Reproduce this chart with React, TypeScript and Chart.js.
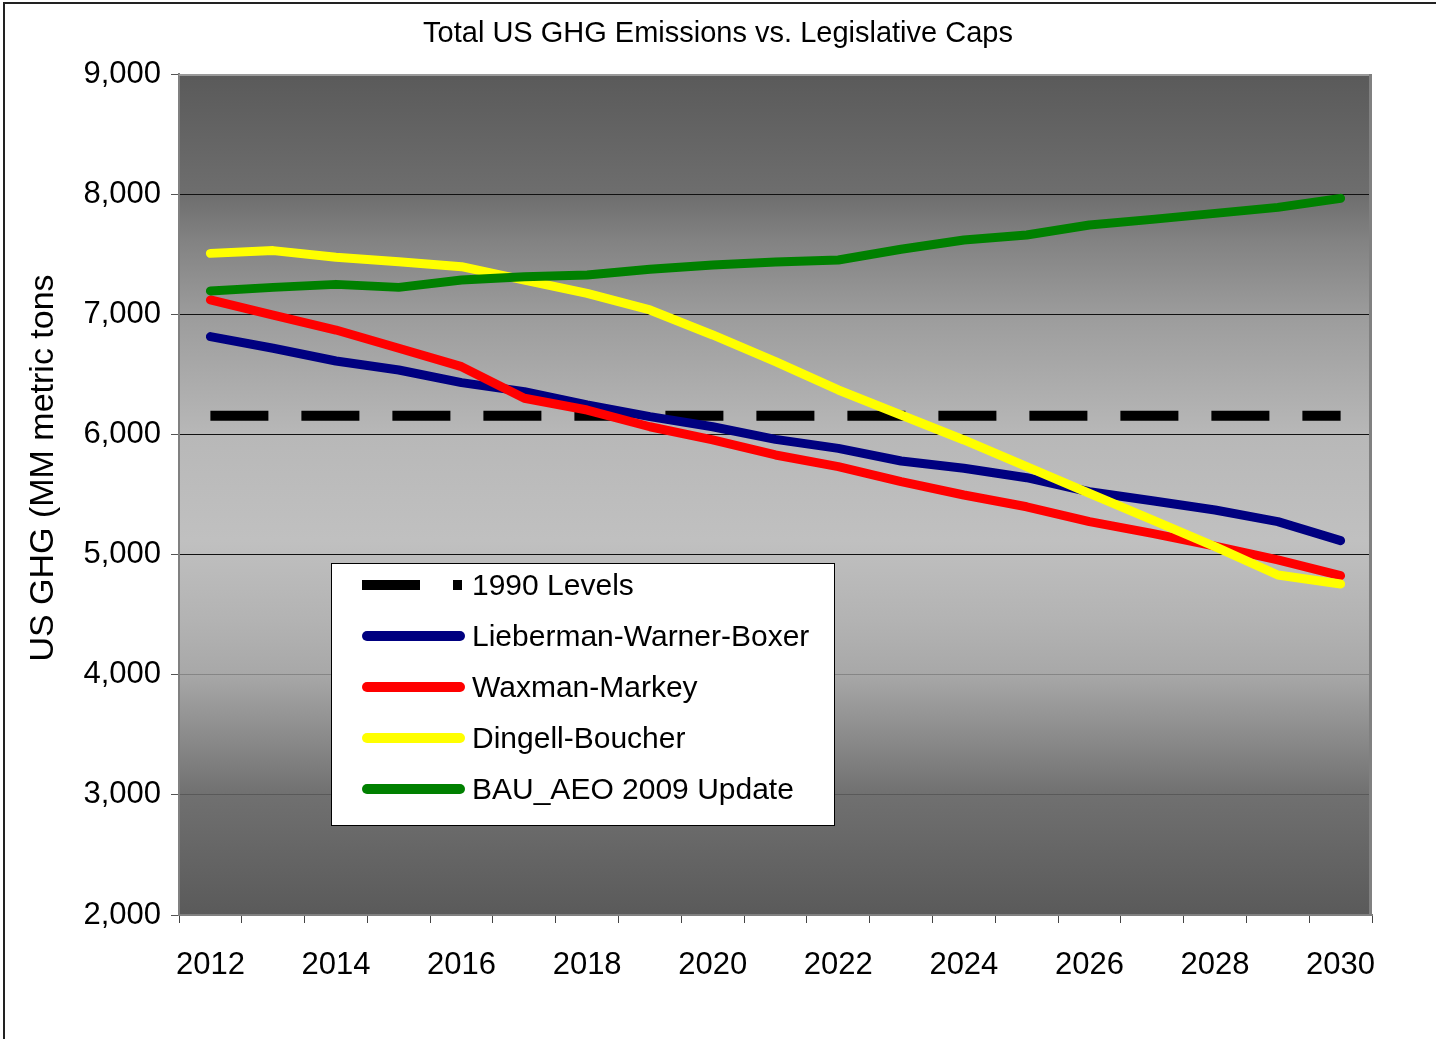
import React, { useEffect, useRef } from "react";
import { Chart, registerables } from "chart.js";

Chart.register(...registerables);

const years = ["2012","2013","2014","2015","2016","2017","2018","2019","2020","2021","2022","2023","2024","2025","2026","2027","2028","2029","2030"];
const levels1990 = [6155,6155,6155,6155,6155,6155,6155,6155,6155,6155,6155,6155,6155,6155,6155,6155,6155,6155,6155];
const liebermanWarnerBoxer = [6814,6717,6611,6536,6431,6356,6245,6148,6064,5959,5884,5779,5718,5640,5523,5448,5371,5274,5116];
const waxmanMarkey = [7119,6994,6869,6717,6564,6301,6203,6064,5954,5829,5732,5607,5496,5398,5274,5176,5071,4955,4824];
const dingellBoucher = [7507,7530,7474,7438,7396,7285,7174,7036,6828,6606,6370,6162,5954,5732,5510,5288,5066,4830,4755];
const bauAeo2009 = [7194,7224,7249,7224,7285,7313,7327,7374,7410,7435,7452,7541,7618,7660,7743,7790,7840,7890,7965];
const seriesNames = ["1990 Levels","Lieberman-Warner-Boxer","Waxman-Markey","Dingell-Boucher","BAU_AEO 2009 Update"];
const yTicks = [2000,3000,4000,5000,6000,7000,8000,9000];

const TITLE = "Total US GHG Emissions vs. Legislative Caps";
const Y_TITLE = "US GHG (MM metric tons";
const FONT = "'Liberation Sans', Arial, sans-serif";

const W = 1436;
const H = 1039;

const plotBackground = {
  id: "plotBackground",
  beforeDraw(chart: any) {
    const { ctx, chartArea } = chart;
    const { left, top, right, bottom } = chartArea;
    const g = ctx.createLinearGradient(0, top, 0, bottom);
    g.addColorStop(0, "#5a5a5a");
    g.addColorStop(0.144, "#6e6e6e");
    g.addColorStop(0.2, "#838383");
    g.addColorStop(0.287, "#9c9c9c");
    g.addColorStop(0.43, "#b8b8b8");
    g.addColorStop(0.554, "#c0c0c0");
    g.addColorStop(0.649, "#b3b3b3");
    g.addColorStop(0.713, "#a8a8a8");
    g.addColorStop(0.857, "#707070");
    g.addColorStop(1, "#5a5a5a");
    ctx.save();
    ctx.fillStyle = g;
    ctx.fillRect(left, top, right - left, bottom - top);
    ctx.restore();
  },
  beforeDatasetsDraw(chart: any) {
    const { ctx, chartArea } = chart;
    const { left, top, right, bottom } = chartArea;
    ctx.save();
    ctx.strokeStyle = "#9a9a9a";
    ctx.lineWidth = 2;
    ctx.beginPath();
    ctx.moveTo(left, top + 1);
    ctx.lineTo(right, top + 1);
    ctx.stroke();
    ctx.strokeStyle = "#808080";
    ctx.lineWidth = 3;
    ctx.beginPath();
    ctx.moveTo(right - 1.5, top);
    ctx.lineTo(right - 1.5, bottom);
    ctx.stroke();
    ctx.restore();
  },
};

const yTitlePlugin = {
  id: "yTitlePlugin",
  afterDraw(chart: any) {
    const { ctx } = chart;
    ctx.save();
    ctx.translate(53, 468);
    ctx.rotate(-Math.PI / 2);
    ctx.font = `34px ${FONT}`;
    ctx.fillStyle = "#000";
    ctx.textAlign = "center";
    ctx.textBaseline = "alphabetic";
    ctx.fillText(Y_TITLE, 0, 0);
    ctx.restore();
  },
};

const boxLegend = {
  id: "boxLegend",
  afterDraw(chart: any) {
    const { ctx } = chart;
    const bx = 331, by = 563, bw = 503, bh = 262;
    ctx.save();
    ctx.fillStyle = "#ffffff";
    ctx.fillRect(bx, by, bw, bh);
    ctx.strokeStyle = "#000";
    ctx.lineWidth = 1;
    ctx.strokeRect(bx + 0.5, by + 0.5, bw, bh);
    chart.data.datasets.forEach((ds: any, i: number) => {
      const cy = by + 22 + i * 51;
      ctx.strokeStyle = ds.borderColor;
      ctx.lineWidth = 10;
      if (ds.borderDash && ds.borderDash.length) {
        ctx.setLineDash([58, 33]);
        ctx.lineCap = "butt";
        ctx.beginPath();
        ctx.moveTo(362, cy);
        ctx.lineTo(462, cy);
        ctx.stroke();
      } else {
        ctx.setLineDash([]);
        ctx.lineCap = "round";
        ctx.beginPath();
        ctx.moveTo(367, cy);
        ctx.lineTo(460, cy);
        ctx.stroke();
      }
      ctx.setLineDash([]);
      ctx.fillStyle = "#000";
      ctx.font = `30px ${FONT}`;
      ctx.textAlign = "left";
      ctx.textBaseline = "middle";
      ctx.fillText(ds.label, 472, cy + 2);
    });
    ctx.restore();
  },
};

export default function App() {
  const ref = useRef<HTMLCanvasElement | null>(null);

  useEffect(() => {
    if (!ref.current) return;
    const mk = (label: string, data: number[], color: string, order: number, dash?: number[]) => ({
      label,
      data,
      borderColor: color,
      backgroundColor: color,
      borderWidth: dash ? 10 : 9,
      borderDash: dash || [],
      borderCapStyle: dash ? "butt" : "round",
      borderJoinStyle: "round",
      pointRadius: 0,
      pointHoverRadius: 0,
      tension: 0,
      fill: false,
      order,
    });
    const chart = new Chart(ref.current, {
      type: "line",
      data: {
        labels: years,
        datasets: [
          mk(seriesNames[0], levels1990, "#000000", 5, [58, 33]),
          mk(seriesNames[1], liebermanWarnerBoxer, "#000080", 4),
          mk(seriesNames[2], waxmanMarkey, "#ff0000", 3),
          mk(seriesNames[3], dingellBoucher, "#ffff00", 2),
          mk(seriesNames[4], bauAeo2009, "#008000", 1),
        ] as any,
      },
      options: {
        responsive: false,
        animation: false,
        events: [],
        layout: { padding: { left: 0, right: 0, top: 0, bottom: 0 } },
        plugins: {
          legend: { display: false },
          tooltip: { enabled: false },
          title: {
            display: true,
            text: TITLE,
            color: "#000",
            font: { family: FONT, size: 29, weight: "normal" },
            padding: { top: 17, bottom: 22.2 },
          },
        },
        scales: {
          x: {
            type: "category",
            offset: true,
            grid: {
              display: true,
              offset: true,
              drawOnChartArea: false,
              drawTicks: true,
              tickLength: 8,
              color: "#444",
            },
            border: { display: true, color: "#808080", width: 2 },
            ticks: {
              autoSkip: false,
              maxRotation: 0,
              minRotation: 0,
              padding: 24,
              color: "#000",
              font: { family: FONT, size: 31 },
              callback: (_v: any, i: number) => (i % 2 === 0 ? years[i] : ""),
            },
            afterFit: (s: any) => {
              s.height = H - 915;
            },
          },
          y: {
            type: "linear",
            min: yTicks[0],
            max: yTicks[yTicks.length - 1],
            afterBuildTicks: (s: any) => {
              s.ticks = yTicks.map((v) => ({ value: v }));
            },
            grid: {
              color: (c: any) =>
                c.tick && c.tick.value >= 5000 ? "#111111" : "rgba(0,0,0,0.2)",
              lineWidth: 1,
              drawTicks: true,
              tickLength: 8,
              tickColor: "#555",
            },
            border: { display: true, color: "#808080", width: 2 },
            ticks: {
              padding: 10,
              color: "#000",
              font: { family: FONT, size: 31 },
              callback: (v: any) => Number(v).toLocaleString("en-US"),
            },
            afterFit: (s: any) => {
              s.width = 179;
            },
          },
          y2: {
            type: "linear",
            position: "right",
            display: true,
            grid: { display: false, drawOnChartArea: false, drawTicks: false },
            border: { display: false },
            ticks: { display: false },
            afterFit: (s: any) => {
              s.width = W - 1372;
            },
          },
        },
      },
      plugins: [plotBackground, yTitlePlugin, boxLegend],
    } as any);
    return () => chart.destroy();
  }, []);

  return (
    <div style={{ position: "fixed", left: 0, top: 0, width: W, height: H, overflow: "hidden", background: "#fff" }}>
      <canvas ref={ref} width={W} height={H} style={{ position: "absolute", left: 0, top: 0, width: W, height: H }} />
      <div
        style={{
          position: "absolute",
          left: 3,
          top: 2,
          width: W + 100,
          height: H + 100,
          border: "2px solid #222",
          pointerEvents: "none",
        }}
      />
    </div>
  );
}
